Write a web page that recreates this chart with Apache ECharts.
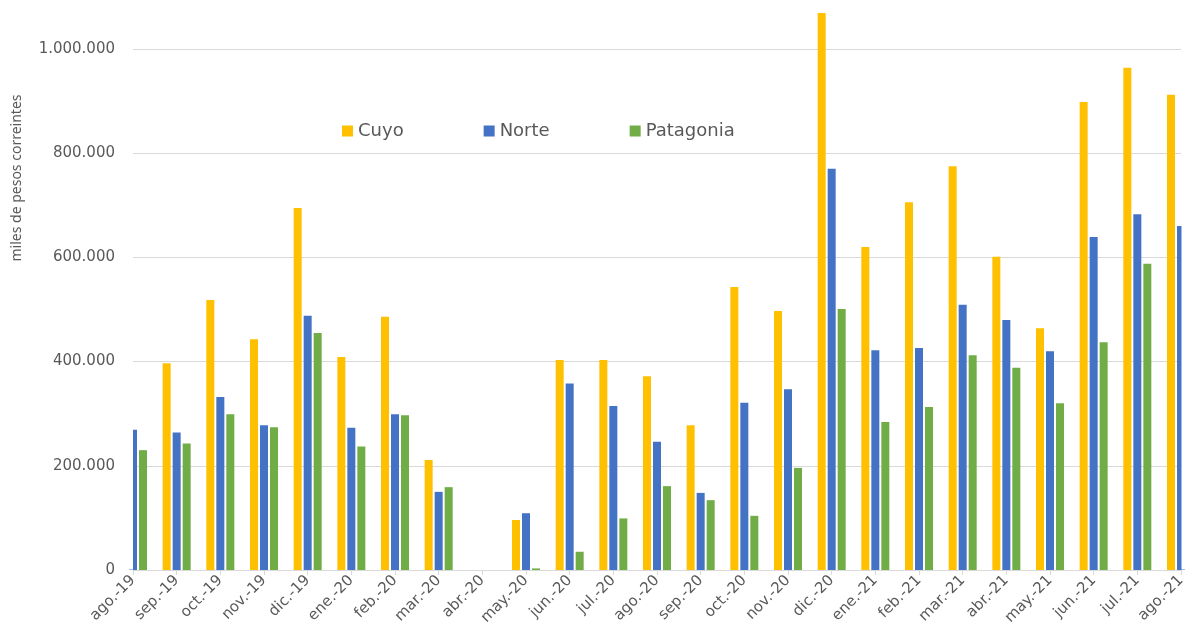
<!DOCTYPE html>
<html>
<head>
<meta charset="utf-8">
<script src="https://cdn.jsdelivr.net/npm/echarts@6/dist/echarts.min.js"></script>
<style>
  html, body { margin: 0; padding: 0; background: #fff; }
  #main { width: 1197px; height: 630px; }
</style>
</head>
<body>
<div id="main"></div>
<script>
// meses (eje x)
var meses = ['ago.-19','sep.-19','oct.-19','nov.-19','dic.-19','ene.-20','feb.-20','mar.-20','abr.-20','may.-20',
             'jun.-20','jul.-20','ago.-20','sep.-20','oct.-20','nov.-20','dic.-20','ene.-21','feb.-21','mar.-21',
             'abr.-21','may.-21','jun.-21','jul.-21','ago.-21'];

// miles de pesos corrientes (null = fuera del area visible)
var cuyo      = [null, 397000, 518000, 443000, 695000, 409000, 486000, 211000, 0, 96000,
                 403000, 403000, 372000, 278000, 543000, 497000, 1069000, 620000, 706000, 775000,
                 601000, 464000, 898000, 964000, 912000];
var norte     = [269000, 264000, 332000, 278000, 488000, 273000, 299000, 150000, 0, 109000,
                 358000, 315000, 246000, 148000, 321000, 347000, 770000, 422000, 426000, 509000,
                 480000, 420000, 639000, 683000, 660000];
var patagonia = [230000, 243000, 299000, 274000, 455000, 237000, 297000, 159000, 0, 3000,
                 35000, 99000, 161000, 134000, 104000, 196000, 501000, 284000, 313000, 412000,
                 388000, 320000, 437000, 588000, null];

var yTicks = [0, 200000, 400000, 600000, 800000, 1000000];

function miles(v) {
    return String(v).replace(/\B(?=(\d{3})+(?!\d))/g, '.');
}

var myChart = echarts.init(document.getElementById('main'));

var gris = '#595959';
var fuente = 'DejaVu Sans';

function serie(nombre, datos, color) {
    return {
        name: nombre,
        type: 'bar',
        data: datos,
        barWidth: 8,
        barGap: '25%',
        itemStyle: { color: color },
        emphasis: { disabled: true }
    };
}

// el grafico original esta recortado en el centro de la primera y ultima categoria
var tapas = [
    { type: 'rect', z: 100, shape: { x: 117, y: 0, width: 16, height: 569.5 }, style: { fill: '#fff' } },
    { type: 'rect', z: 100, shape: { x: 1181.5, y: 0, width: 16, height: 569.5 }, style: { fill: '#fff' } }
];

var option = {
    backgroundColor: '#fff',
    animation: false,
    grid: { left: 133, right: 16, top: 0, bottom: 60 },
    legend: {
        left: 337,
        top: 117,
        itemWidth: 11,
        itemHeight: 11,
        itemGap: 80,
        icon: 'rect',
        textStyle: { fontFamily: fuente, fontSize: 18, color: gris },
        data: ['Cuyo', 'Norte', 'Patagonia']
    },
    graphic: tapas.concat([{
        type: 'text',
        x: 10,
        y: 178,
        rotation: Math.PI / 2,
        style: {
            text: 'miles de pesos correintes',
            fontFamily: 'Noto Sans',
            fontSize: 14,
            fill: gris,
            align: 'center',
            verticalAlign: 'top'
        }
    }]),
    xAxis: {
        type: 'category',
        data: meses,
        boundaryGap: false,
        axisLine: { lineStyle: { color: '#D9D9D9', width: 1 } },
        axisTick: { show: true, length: 5, lineStyle: { color: '#D9D9D9' } },
        axisLabel: {
            interval: 0,
            rotate: 45,
            margin: 8,
            color: gris,
            fontFamily: fuente,
            fontSize: 15
        },
        splitLine: { show: false }
    },
    yAxis: {
        type: 'value',
        min: 0,
        max: 1094000,
        interval: 200000,
        axisLine: { show: false },
        axisTick: { show: false },
        axisLabel: {
            margin: 18,
            color: gris,
            fontFamily: fuente,
            fontSize: 15,
            formatter: function (v) {
                return yTicks.indexOf(v) >= 0 ? miles(v) : '';
            }
        },
        splitLine: { showMaxLine: false, lineStyle: { color: '#D9D9D9', width: 1 } }
    },
    series: [
        serie('Cuyo', cuyo, '#FFC000'),
        serie('Norte', norte, '#4472C4'),
        serie('Patagonia', patagonia, '#70AD47')
    ]
};

myChart.setOption(option);
</script>
</body>
</html>
